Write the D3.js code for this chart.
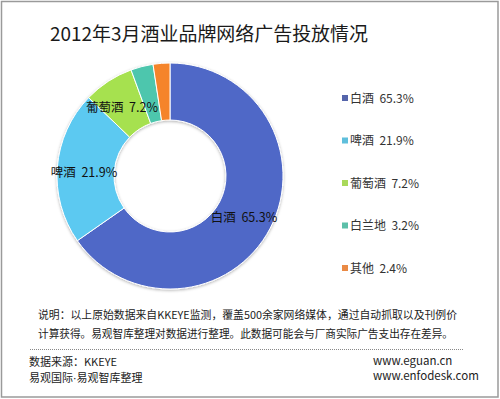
<!DOCTYPE html>
<html><head><meta charset="utf-8">
<script src="https://cdn.jsdelivr.net/npm/d3@7"></script>
<style>
html,body{margin:0;padding:0;background:#fff;}
svg{display:block;font-family:"Microsoft YaHei","Noto Sans CJK SC",sans-serif;}
</style></head>
<body><svg id="c" width="500" height="399"></svg>
<script>
const categories = ["白酒","啤酒","葡萄酒","白兰地","其他"];
const values = [65.3, 21.9, 7.2, 3.2, 2.4];
const labelText = ["白酒  65.3%","啤酒  21.9%","葡萄酒  7.2%","白兰地  3.2%","其他  2.4%"];
const title = "2012年3月酒业品牌网络广告投放情况";
const note1 = "说明：以上原始数据来自KKEYE监测，覆盖500余家网络媒体，通过自动抓取以及刊例价";
const note2 = "计算获得。易观智库整理对数据进行整理。此数据可能会与厂商实际广告支出存在差异。";
const source1 = "数据来源：KKEYE";
const source2 = ["易观国际","·","易观智库整理"];
const site1 = "www.eguan.cn";
const site2 = "www.enfodesk.com";

const colors = ["#4f68c7","#5cc9f1","#a6e14f","#4ec6ad","#f5842a"];
const legendColors = ["#5565ab","#5fbfdc","#a9d95a","#5cc0a9","#ea8a45"];

const svg = d3.select("#c");
svg.append("rect").attr("x",1.5).attr("y",1.5).attr("width",496.5).attr("height",395.5)
  .attr("fill","#fff").attr("stroke","#9a9a9a").attr("stroke-width",1.5);

svg.append("text").attr("x",50).attr("y",41).attr("font-size",19).attr("fill","#1a1a1a")
  .attr("textLength",318).attr("lengthAdjust","spacingAndGlyphs").text(title);

const cx=170, cy=176, R=113, r=56;
const defs = svg.append("defs");
const f = defs.append("filter").attr("id","sh").attr("x","-20%").attr("y","-20%").attr("width","140%").attr("height","140%");
f.append("feDropShadow").attr("dx",0).attr("dy",1).attr("stdDeviation",1.5).attr("flood-color","#000").attr("flood-opacity",0.3);

const pie = d3.pie().sort(null).value(d=>d);
const arcs = pie(values);
const arc = d3.arc().innerRadius(r).outerRadius(R);
const g = svg.append("g").attr("transform",`translate(${cx},${cy})`);
g.append("g").attr("filter","url(#sh)").selectAll("path").data(arcs).join("path")
  .attr("d",arc).attr("fill",(d,i)=>colors[i]).attr("stroke","#fff").attr("stroke-width",1);

// slice labels for first three slices
const labelPos = [[244,222],[84,177],[122,112]];
[0,1,2].forEach(i=>{
  svg.append("text").attr("x",labelPos[i][0]).attr("y",labelPos[i][1])
    .attr("text-anchor","middle").attr("font-size",12.5).attr("fill","#111")
    .style("white-space","pre").text(labelText[i]);
});

// legend
const ly = d3.scalePoint().domain(categories).range([98,268]);
const lg = svg.append("g");
categories.forEach((c,i)=>{
  lg.append("rect").attr("x",342).attr("y",ly(c)-3).attr("width",6).attr("height",6).attr("fill",legendColors[i]);
  lg.append("text").attr("x",350).attr("y",ly(c)+4.5).attr("font-size",12).attr("fill","#333")
    .style("white-space","pre").text(labelText[i]);
});

// notes
svg.append("text").attr("x",38).attr("y",319).attr("font-size",11).attr("fill","#222")
  .attr("textLength",419).attr("lengthAdjust","spacingAndGlyphs").text(note1);
svg.append("text").attr("x",38).attr("y",338).attr("font-size",11).attr("fill","#222")
  .attr("textLength",415).attr("lengthAdjust","spacingAndGlyphs").text(note2);
svg.append("line").attr("x1",30).attr("x2",463).attr("y1",349.5).attr("y2",349.5)
  .attr("stroke","#888").attr("stroke-dasharray","1,1");
svg.append("text").attr("x",29).attr("y",366).attr("font-size",11).attr("fill","#222").text(source1);
const s2 = svg.append("text").attr("x",29).attr("y",382).attr("font-size",11).attr("fill","#222");
s2.append("tspan").text(source2[0]);
s2.append("tspan").attr("font-family","DejaVu Sans").text(source2[1]);
s2.append("tspan").text(source2[2]);
svg.append("text").attr("x",373).attr("y",365).attr("font-size",11.5).attr("fill","#222").text(site1);
svg.append("text").attr("x",373).attr("y",380).attr("font-size",11.5).attr("fill","#222").text(site2);
</script></body></html>
